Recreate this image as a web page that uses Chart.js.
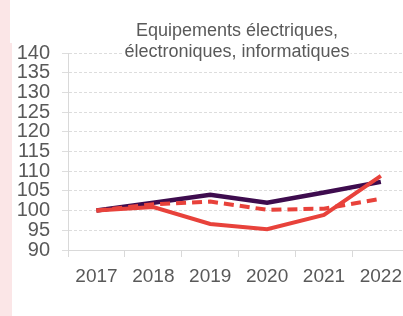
<!DOCTYPE html>
<html>
<head>
<meta charset="utf-8">
<style>
    html, body { margin: 0; padding: 0; width: 403px; height: 316px; overflow: hidden; background: #fff; }
    .strip-top { position: absolute; left: 0; top: 0; width: 10px; height: 43px; background: #fbe6e7; }
    .strip { position: absolute; left: 0; top: 43px; width: 12px; height: 273px; background: #fbe6e7; }
    #wrap { position: absolute; left: 0; top: 0; width: 410px; height: 316px; }
</style>
</head>
<body>
<div class="strip-top"></div>
<div class="strip"></div>
<div id="wrap"><canvas id="myChart"></canvas></div>
<script src="https://cdn.jsdelivr.net/npm/chart.js@4.4.2/dist/chart.umd.min.js"></script>
<script>
// data
const years = ['2017', '2018', '2019', '2020', '2021', '2022'];
const purpleSeries = [100, 102, 104, 102, 104.6, 107.3];
const redSeries = [100, 100.9, 96.6, 95.3, 98.9, 108.8];
const redDashed = [100, 101.6, 102.3, 100.2, 100.5, 103];
const titleLines = ['Equipements électriques,', 'électroniques, informatiques'];

const PURPLE = '#3e0c4e';
const RED = '#e8423b';
const TITLE_FONT = '18px Arial, "Liberation Sans", sans-serif';

// title sits inside the plot, over the top gridline
const titleInPlot = {
    id: 'titleInPlot',
    afterDraw(chart) {
        const ctx = chart.ctx;
        ctx.save();
        ctx.font = TITLE_FONT;
        ctx.fillStyle = '#595959';
        ctx.textAlign = 'center';
        ctx.textBaseline = 'middle';
        ctx.fillText(titleLines[0], 237, 31);
        ctx.fillText(titleLines[1], 237, 52);
        ctx.restore();
    }
};

// white box behind the title
const titleBg = {
    id: 'titleBg',
    beforeDatasetsDraw(chart) {
        const ctx = chart.ctx;
        ctx.save();
        ctx.font = TITLE_FONT;
        const w = ctx.measureText(titleLines[1]).width;
        ctx.fillStyle = '#fff';
        ctx.fillRect(237 - w / 2 - 1, 45, w + 2, 16);
        ctx.restore();
    }
};

const data = {
    labels: years,
    datasets: [
        {
            label: 'pointillés',
            data: redDashed,
            borderColor: RED,
            borderWidth: 4,
            borderDash: [10, 6],
            pointRadius: 0,
            tension: 0
        },
        {
            label: 'rouge',
            data: redSeries,
            borderColor: RED,
            borderWidth: 4,
            pointRadius: 0,
            tension: 0
        },
        {
            label: 'violet',
            data: purpleSeries,
            borderColor: PURPLE,
            borderWidth: 4.5,
            pointRadius: 0,
            tension: 0
        }
    ]
};

const config = {
    type: 'line',
    data,
    plugins: [titleBg, titleInPlot],
    options: {
        responsive: false,
        animation: false,
        layout: { padding: { top: 53, left: 0, right: 0, bottom: 0 } },
        plugins: {
            legend: { display: false },
            title: { display: false },
            tooltip: { enabled: false }
        },
        scales: {
            x: {
                offset: true,
                afterFit: (s) => { s.height = 66; },
                grid: {
                    offset: true,
                    drawOnChartArea: false,
                    drawTicks: true,
                    tickLength: 7,
                    color: '#d9d9d9'
                },
                border: { color: '#d9d9d9', width: 1 },
                ticks: {
                    color: '#595959',
                    padding: 8,
                    maxRotation: 0,
                    font: { family: 'Arial, "Liberation Sans", sans-serif', size: 19 }
                }
            },
            y: {
                min: 90,
                max: 140,
                afterFit: (s) => { s.width = 68; },
                grid: {
                    color: '#dddddd',
                    tickLength: 6,
                    tickColor: '#dddddd'
                },
                border: { color: '#d9d9d9', width: 1, dash: [3, 2] },
                ticks: {
                    stepSize: 5,
                    autoSkip: false,
                    color: '#595959',
                    padding: 12,
                    font: { family: 'Arial, "Liberation Sans", sans-serif', size: 20, lineHeight: 1 }
                }
            }
        }
    }
};

const canvas = document.getElementById('myChart');
canvas.width = 410;
canvas.height = 316;
canvas.style.width = '410px';
canvas.style.height = '316px';
let myChart = new Chart(canvas, config);
</script>
</body>
</html>
